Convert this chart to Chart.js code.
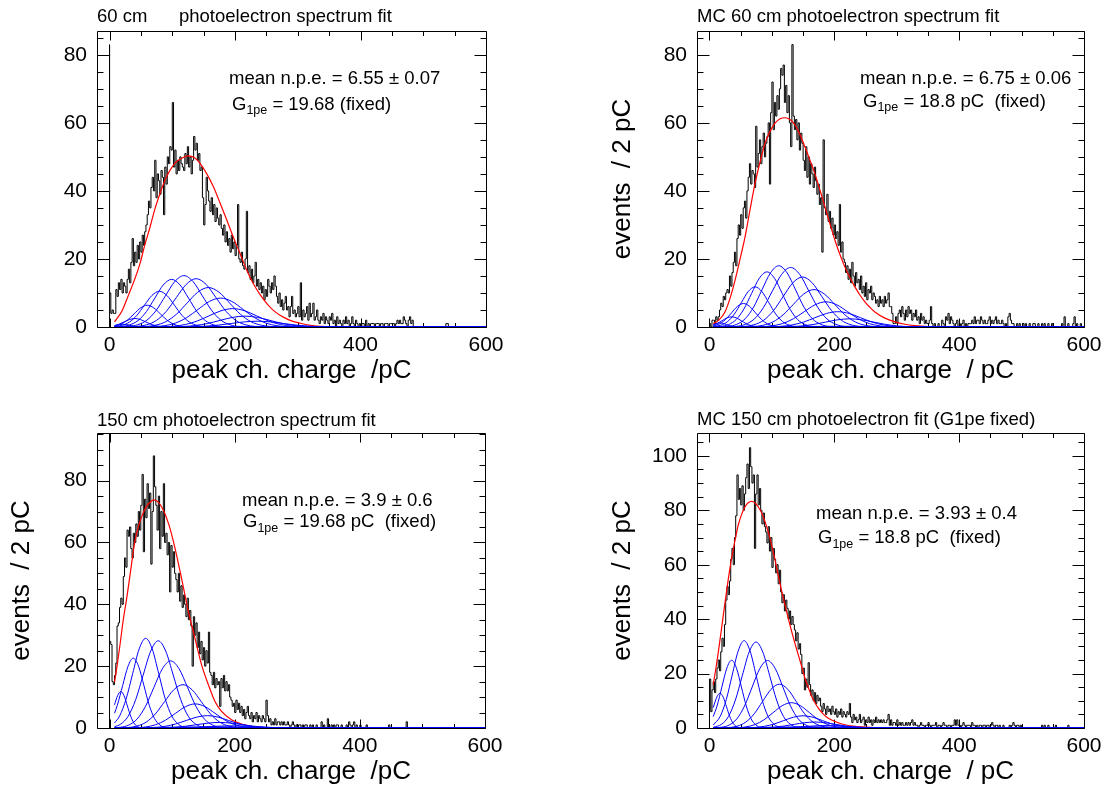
<!DOCTYPE html>
<html>
<head>
<meta charset="utf-8">
<title>photoelectron spectrum fits</title>
<script src="https://cdn.jsdelivr.net/npm/chart.js@4.4.1/dist/chart.umd.min.js"></script>
<style>
  html, body { margin: 0; padding: 0; background: #fff; }
  body { position: relative; width: 1109px; height: 793px; overflow: hidden;
         font-family: "Liberation Sans", Arial, Helvetica, sans-serif; color: #000; }
  .pane { position: absolute; }
  .t { position: absolute; font-size: 18.5px; line-height: 18.5px; white-space: pre; }
  .t .s { font-size: 12.5px; position: relative; top: 4.5px; }
</style>
</head>
<body>
<div class="pane" style="left:0;top:0;width:555px;height:397px"><canvas id="c60"></canvas></div>
<div class="pane" style="left:555px;top:0;width:554px;height:397px"><canvas id="cmc60"></canvas></div>
<div class="pane" style="left:0;top:397px;width:555px;height:396px"><canvas id="c150"></canvas></div>
<div class="pane" style="left:555px;top:397px;width:554px;height:396px"><canvas id="cmc150"></canvas></div>

<div class="t" style="left:97px;top:6.8px">60 cm</div>
<div class="t" style="left:179px;top:6.8px">photoelectron spectrum fit</div>
<div class="t" style="left:229px;top:68.8px">mean n.p.e. = 6.55 ± 0.07</div>
<div class="t" style="left:232px;top:94.8px">G<span class="s">1pe</span> = 19.68 (fixed)</div>

<div class="t" style="left:697px;top:6.8px">MC 60 cm photoelectron spectrum fit</div>
<div class="t" style="left:860px;top:69.3px">mean n.p.e. = 6.75 ± 0.06</div>
<div class="t" style="left:863px;top:91.8px">G<span class="s">1pe</span> = 18.8 pC  (fixed)</div>

<div class="t" style="left:97px;top:410.8px">150 cm photoelectron spectrum fit</div>
<div class="t" style="left:242px;top:490.8px">mean n.p.e. = 3.9 ± 0.6</div>
<div class="t" style="left:243px;top:512.3px">G<span class="s">1pe</span> = 19.68 pC  (fixed)</div>

<div class="t" style="left:697px;top:410.3px">MC 150 cm photoelectron fit (G1pe fixed)</div>
<div class="t" style="left:816px;top:504.3px">mean n.p.e. = 3.93 ± 0.4</div>
<div class="t" style="left:818px;top:528.3px">G<span class="s">1pe</span> = 18.8 pC  (fixed)</div>

<script>
const FONT = "'Liberation Sans', Arial, Helvetica, sans-serif";
Chart.defaults.font.family = FONT;
Chart.defaults.color = '#000';

const xTicks = [0, 200, 400, 600];
const yTicks80 = [0, 20, 40, 60, 80];
const yTicks100 = [0, 20, 40, 60, 80, 100];
const binWidth = 2; // pC per histogram bin, first bin starts at 0 pC

// events per 2 pC bin, 60 cm data
const hist60 = [
  83,10,4,5,4,4,11,9,13,11,
  14,10,13,12,10,14,17,13,19,26,
  18,22,19,24,20,25,22,27,24,28,
  30,33,37,35,41,44,40,49,38,45,
  43,39,46,44,33,47,42,50,48,53,
  52,66,47,52,45,49,46,50,48,47,
  46,51,48,53,47,50,45,49,56,52,
  54,49,51,46,47,38,30,36,44,40,
  37,34,38,33,36,31,35,32,30,33,
  29,27,30,25,28,24,26,22,27,23,
  25,21,24,36,20,19,22,18,17,20,
  34,16,18,14,17,13,15,19,12,14,
  11,13,10,12,8,11,9,14,12,10,
  13,11,15,12,9,7,10,6,8,5,
  7,9,5,6,3,6,9,4,5,3,
  4,6,3,13,2,5,3,4,6,2,
  7,3,4,7,2,3,5,2,1,3,
  2,4,1,3,2,1,3,2,4,1,
  2,0,3,1,2,1,0,2,1,3,
  1,2,0,1,3,1,0,2,1,0,
  1,0,1,1,0,2,0,1,0,1,
  1,1,0,1,1,1,0,1,1,0,
  1,1,1,0,1,1,1,1,0,1,
  2,1,2,1,1,3,2,1,0,2,
  3,1,2,0,0,0,0,0,0,0,
  0,0,0,0,0,0,0,0,0,0,
  0,0,0,0,0,0,0,0,0,1
];

// events per 2 pC bin, MC 60 cm
const histMc60 = [
  0,1,0,2,2,1,3,2,3,5,
  7,6,9,8,10,11,10,15,12,16,
  19,22,18,26,30,27,33,29,35,37,
  32,40,44,48,42,46,45,41,59,47,
  51,55,48,53,57,50,54,56,60,42,
  63,72,58,66,62,68,64,70,76,74,
  77,66,71,63,68,60,53,83,62,58,
  61,55,60,52,57,54,49,46,53,44,
  50,42,48,45,41,47,43,39,42,36,
  38,22,55,35,33,39,31,34,29,32,
  27,30,26,28,24,36,22,25,20,19,
  16,18,14,17,13,19,15,12,16,13,
  14,11,15,10,12,9,13,8,11,10,
  12,8,10,9,7,8,6,9,7,8,
  6,9,7,8,10,6,6,4,1,1,
  3,1,4,5,3,6,4,2,5,3,
  6,4,5,2,4,3,5,2,3,1,
  4,2,3,1,2,1,1,2,6,1,
  0,1,0,0,1,0,0,2,1,0,
  3,2,4,1,3,2,1,0,1,2,
  0,1,0,1,2,0,1,0,1,1,
  1,2,1,3,1,2,2,1,3,2,
  1,2,1,1,2,3,1,2,1,2,
  3,1,2,1,1,2,1,0,1,0,
  3,4,2,1,1,0,0,1,0,1,
  0,0,1,0,1,0,0,1,0,0,
  1,1,0,0,1,0,0,1,0,1,
  0,0,1,0,0,1,0,0,0,0,
  0,0,0,1,0,3,0,0,1,0,
  0,0,1,3,0,1,0,0,1,0
];

// events per 2 pC bin, 150 cm data (first bin runs off scale)
const hist150 = [
  140,28,27,15,14,17,21,33,34,39,
  42,40,49,55,52,64,62,65,58,55,
  63,60,66,62,70,64,72,82,57,74,
  68,79,71,76,53,70,88,78,72,64,
  75,58,70,62,79,60,63,56,60,44,
  59,52,57,50,48,44,50,41,46,39,
  43,40,36,42,35,38,33,20,36,30,
  34,26,31,24,28,22,26,20,25,21,
  31,18,17,14,18,13,16,14,15,7,
  16,13,17,12,15,12,14,10,9,7,
  8,5,9,6,8,5,7,4,6,3,
  5,7,4,3,5,2,4,3,5,2,
  4,3,2,4,3,2,9,4,2,3,
  1,2,1,3,1,2,2,1,2,1,
  2,1,1,2,1,0,1,2,1,0,
  1,0,1,1,0,1,0,1,1,0,
  0,1,0,1,0,0,1,0,0,0,
  2,0,1,0,0,3,0,0,1,0,
  1,0,1,1,0,0,1,0,0,0,
  1,0,2,1,0,1,2,0,1,0,
  0,1,0,0,0,0,1,0,0,0,
  0,0,0,0,0,0,0,0,0,0,
  0,0,0,0,1,0,0,0,0,0,
  0,0,0,0,0,0,0,0,2,0
];

// events per 2 pC bin, MC 150 cm
const histMc150 = [
  2,18,6,14,17,13,18,22,25,21,
  28,33,30,38,47,52,49,54,62,66,
  60,70,78,93,84,88,82,89,80,86,
  92,97,88,103,96,90,93,66,86,93,
  82,88,80,75,79,74,72,68,74,65,
  70,59,66,62,57,60,53,58,50,46,
  49,43,47,44,40,43,38,41,38,36,
  32,35,29,31,27,20,22,14,18,15,
  24,16,12,14,10,13,9,12,10,11,
  8,6,9,7,5,8,6,7,5,8,
  6,5,7,4,6,5,7,4,6,5,
  4,6,5,9,4,2,5,3,4,2,
  3,5,2,3,4,1,3,2,4,2,
  3,1,3,2,4,2,3,2,3,2,
  3,2,2,3,5,1,3,1,2,2,
  1,3,1,2,1,2,1,1,2,1,
  2,1,2,3,1,2,1,1,0,1,
  2,1,1,0,1,1,2,1,0,1,
  1,1,2,0,1,1,0,1,2,1,
  1,0,1,1,0,1,1,3,1,3,
  1,1,0,1,2,1,0,1,1,1,
  0,2,1,1,0,1,0,1,1,0,
  1,1,0,1,1,0,1,2,1,0,
  1,1,0,1,0,0,1,0,0,0,
  0,1,0,1,2,1,0,1,1,0,
  1,0,0,0,0,0,0,0,0,0,
  0,0,0,0,0,0,0,1,0,1,
  0,0,1,0,0,0,0,0,1,0,
  0,0,0,0,0,0,0,0,1,0,
  0,0,0,0,0,0,0,0,0,0
];

// total fit curves [pC, events]
const fit60 = [[8,1.5],[20,4.8],[30,9.3],[40,14],[48.6,18.7],[56,24],[64.6,29.4],[72,34.5],[80.5,39.3],[88,43],[96.5,46.1],[105,48.3],[115,49.6],[125.7,50.3],[135,49.8],[144.3,48.1],[155,45],[165.6,41.2],[176,36.5],[187,31.4],[197,26.5],[208,21.6],[218,17],[229,12.8],[240,9.5],[250.7,6.9],[263,4.6],[277,2.9],[290,1.8],[304,1.1],[320,0.5],[336,0.2],[355,0],[600,0]];
const fitMc60 = [[6,1],[15,2],[25,4.5],[33,8.5],[41,13.8],[49,20],[57,26.5],[65,34.5],[73,42.2],[81,48.5],[89,54],[97,57.5],[105,59.9],[113,61.2],[121,61.5],[129,61],[137,59.4],[145,56.5],[153,52.9],[161,49],[169,45],[177,40.2],[185,35.3],[193,30.3],[201,25.5],[209,21.3],[217,17.6],[225,14.5],[233,11.8],[241,9.4],[249,7.4],[257,5.8],[265,4.4],[281,2.6],[297,1.5],[313,0.8],[329,0.4],[350,0.1],[370,0],[600,0]];
const fit150 = [[8,14.8],[12,20],[16.8,27],[22,35],[27.5,42],[32.8,49.5],[40.7,60.5],[46.7,65.5],[52.7,69],[58.7,71.5],[64.7,73],[70.7,73.8],[77,73.2],[84.7,71],[95,65.7],[104.6,58.2],[115,48.5],[126,37.7],[136.6,29],[147,20.5],[158,14],[168.5,8.6],[179,5.4],[195,2.7],[211,1.3],[232,0.4],[260,0.05],[280,0],[600,0]];
const fitMc150 = [[6,15.9],[10,21.5],[14.2,28],[19,36],[24.8,46],[30,54.5],[35.5,62.5],[41,69],[46,74.5],[51.5,78.5],[57,81.3],[62,82.8],[67.6,83.3],[73,82.7],[78,81.3],[84,78.8],[89,75.8],[94.5,71.8],[99.6,67.2],[105,61.8],[110,56.2],[115.5,50.5],[121,45.2],[126.5,40],[131.7,35.4],[137,31],[142.4,26.8],[148,22.4],[153,18.3],[158.5,14.8],[163.7,11.6],[169,9.3],[174.4,7.3],[182,5.2],[190.4,3.6],[203,2.2],[217,1.2],[230,0.7],[244,0.4],[270,0.1],[300,0],[600,0]];

// n-photoelectron components [pC, events]
const comp60 = [
  [[8,.4],[10,.49],[15.5,.71],[21,.8],[26.5,.71],[32,.49],[37.5,.26],[43,.11],[48.5,.04],[54,.01],[600,0]],
  [[8,.4],[15,.81],[23.5,1.52],[32,2.2],[40.5,2.5],[49,2.2],[57.5,1.52],[66,.81],[74.5,.34],[83,.11],[91.5,.03],[600,0]],
  [[8,.28],[18.4,.86],[28.8,2.08],[39.2,3.88],[49.6,5.64],[60,6.4],[70.4,5.64],[80.8,3.88],[91.2,2.08],[101.6,.86],[112,.28],[122.4,.07],[600,0]],
  [[8,.12],[19.5,.46],[31.5,1.42],[43.5,3.41],[55.5,6.37],[67.5,9.26],[79.5,10.5],[91.5,9.26],[103.5,6.37],[115.5,3.41],[127.5,1.42],[139.5,.46],[151.5,.12],[600,0]],
  [[8,.04],[18.6,.15],[32,.62],[45.4,1.89],[58.8,4.55],[72.2,8.5],[85.6,12.35],[99,14],[112.4,12.35],[125.8,8.5],[139.2,4.55],[152.6,1.89],[166,.62],[179.4,.15],[600,0]],
  [[8,0],[30.3,.17],[45,.66],[59.7,2.04],[74.4,4.91],[89.1,9.17],[103.8,13.32],[118.5,15.1],[133.2,13.32],[147.9,9.17],[162.6,4.91],[177.3,2.04],[192,.66],[206.7,.17],[600,0]],
  [[8,0],[42.9,.16],[58.8,.62],[74.6,1.92],[90.5,4.62],[106.3,8.62],[122.2,12.52],[138,14.2],[153.9,12.52],[169.7,8.62],[185.6,4.62],[201.4,1.92],[217.3,.62],[233.1,.16],[600,0]],
  [[8,0],[55.8,.13],[72.8,.51],[89.7,1.57],[106.7,3.77],[123.6,7.04],[140.6,10.23],[157.5,11.6],[174.5,10.23],[191.4,7.04],[208.4,3.77],[225.3,1.57],[242.3,.51],[259.2,.13],[600,0]],
  [[8,0],[69,.09],[87,.37],[105,1.15],[123,2.76],[141,5.16],[159,7.5],[177,8.5],[195,7.5],[213,5.16],[231,2.76],[249,1.15],[267,.37],[285,.09],[600,0]],
  [[8,0],[82.8,.06],[101.8,.24],[120.7,.73],[139.7,1.76],[158.6,3.28],[177.6,4.76],[196.5,5.4],[215.5,4.76],[234.4,3.28],[253.4,1.76],[272.3,.73],[291.3,.24],[310.2,.06],[600,0]],
  [[8,0],[96.6,.04],[116.5,.14],[136.4,.43],[156.3,1.04],[176.2,1.94],[196.1,2.82],[216,3.2],[235.9,2.82],[255.8,1.94],[275.7,1.04],[295.6,.43],[315.5,.14],[335.4,.04],[600,0]],
  [[8,0],[110.7,.02],[131.5,.07],[152.3,.23],[173.1,.55],[193.9,1.03],[214.7,1.5],[235.5,1.7],[256.3,1.5],[277.1,1.03],[297.9,.55],[318.7,.23],[339.5,.07],[360.3,.02],[600,0]]
];
const compMc60 = [
  [[6,.66],[12,1.06],[17,1.2],[22,1.06],[27,.73],[32,.39],[37,.16],[42,.05],[47,.01],[600,0]],
  [[6,.5],[12.1,.98],[19.9,1.82],[27.7,2.65],[35.5,3],[43.3,2.65],[51.1,1.82],[58.9,.98],[66.7,.41],[74.5,.13],[82.3,.03],[600,0]],
  [[6,.28],[16.3,.93],[25.9,2.24],[35.4,4.19],[45,6.09],[54.5,6.9],[64,6.09],[73.6,4.19],[83.2,2.24],[92.7,.93],[102.3,.3],[111.8,.08],[600,0]],
  [[6,.11],[18,.52],[29,1.59],[40,3.84],[51,7.16],[62,10.41],[73,11.8],[84,10.41],[95,7.16],[106,3.84],[117,1.59],[128,.52],[139,.13],[600,0]],
  [[6,.03],[18.2,.18],[30.5,.71],[42.8,2.19],[55.1,5.27],[67.4,9.83],[79.7,14.29],[92,16.2],[104.3,14.29],[116.6,9.83],[128.9,5.27],[141.2,2.19],[153.5,.71],[165.8,.18],[600,0]],
  [[6,0],[30.3,.2],[43.8,.79],[57.2,2.43],[70.7,5.85],[84.1,10.93],[97.6,15.88],[111,18],[124.5,15.88],[137.9,10.93],[151.4,5.85],[164.8,2.43],[178.3,.79],[191.7,.2],[600,0]],
  [[6,0],[42.7,.19],[57.3,.77],[71.8,2.36],[86.4,5.69],[100.9,10.62],[115.5,15.44],[130,17.5],[144.6,15.44],[159.1,10.62],[173.7,5.69],[188.2,2.36],[202.8,.77],[217.3,.19],[600,0]],
  [[6,0],[55.7,.16],[71.3,.65],[86.8,1.98],[102.4,4.78],[117.9,8.92],[133.5,12.97],[149,14.7],[164.6,12.97],[180.1,8.92],[195.7,4.78],[211.2,1.98],[226.8,.65],[242.3,.16],[600,0]],
  [[6,0],[68.5,.12],[85,.48],[101.5,1.49],[118,3.58],[134.5,6.68],[151,9.7],[167.5,11],[184,9.7],[200.5,6.68],[217,3.58],[233.5,1.49],[250,.48],[266.5,.12],[600,0]],
  [[6,0],[82.1,.08],[99.5,.33],[116.9,1],[134.3,2.41],[151.7,4.49],[169.1,6.53],[186.5,7.4],[203.9,6.53],[221.3,4.49],[238.7,2.41],[256.1,1],[273.5,.33],[290.9,.08],[600,0]],
  [[6,0],[96,.05],[114.3,.2],[132.5,.61],[150.8,1.46],[169,2.73],[187.3,3.97],[205.5,4.5],[223.8,3.97],[242,2.73],[260.3,1.46],[278.5,.61],[296.8,.2],[315,.05],[600,0]],
  [[6,0],[110.2,.03],[129.3,.11],[148.3,.32],[167.4,.78],[186.4,1.46],[205.5,2.12],[224.5,2.4],[243.6,2.12],[262.6,1.46],[281.7,.78],[300.7,.32],[319.8,.11],[338.8,.03],[600,0]]
];
const comp150 = [
  [[8,7.5],[12.8,10.41],[18,11.8],[23.3,10.41],[28.5,7.16],[33.8,3.84],[39,1.59],[44.3,.52],[49.5,.13],[600,0]],
  [[8,4.8],[12.5,7.35],[21,13.72],[29.5,19.93],[38,22.6],[46.5,19.93],[55,13.72],[63.5,7.35],[72,3.05],[80.5,.99],[89,.25],[600,0]],
  [[8,1.65],[16.2,3.92],[26.6,9.43],[37,17.6],[47.4,25.58],[57.8,29],[68.2,25.58],[78.6,17.6],[89,9.43],[99.4,3.92],[109.8,1.28],[120.2,.32],[600,0]],
  [[8,.41],[17.8,1.24],[29.8,3.81],[41.8,9.17],[53.8,17.12],[65.8,24.87],[77.8,28.2],[89.8,24.87],[101.8,17.12],[113.8,9.17],[125.8,3.81],[137.8,1.24],[149.8,.31],[600,0]],
  [[8,.08],[17.4,.24],[30.8,.95],[44.2,2.93],[57.6,7.05],[71,13.17],[84.4,19.14],[97.8,21.7],[111.2,19.14],[124.6,13.17],[138,7.05],[151.4,2.93],[164.8,.95],[178.2,.24],[600,0]],
  [[8,0],[29.1,.15],[43.8,.62],[58.5,1.89],[73.2,4.55],[87.9,8.5],[102.6,12.35],[117.3,14],[132,12.35],[146.7,8.5],[161.4,4.55],[176.1,1.89],[190.8,.62],[205.5,.15],[600,0]],
  [[8,0],[41.9,.09],[57.8,.34],[73.6,1.05],[89.5,2.54],[105.3,4.73],[121.2,6.88],[137,7.8],[152.9,6.88],[168.7,4.73],[184.6,2.54],[200.4,1.05],[216.3,.34],[232.1,.09],[600,0]],
  [[8,0],[54.8,.04],[71.8,.18],[88.7,.54],[105.7,1.3],[122.6,2.43],[139.6,3.53],[156.5,4],[173.5,3.53],[190.4,2.43],[207.4,1.3],[224.3,.54],[241.3,.18],[258.2,.04],[600,0]],
  [[8,0],[68,.02],[86,.08],[104,.24],[122,.59],[140,1.09],[158,1.59],[176,1.8],[194,1.59],[212,1.09],[230,.59],[248,.24],[266,.08],[284,.02],[600,0]],
  [[8,0],[81.8,.01],[100.8,.03],[119.7,.09],[138.7,.23],[157.6,.42],[176.6,.62],[195.5,.7],[214.5,.62],[233.4,.42],[252.4,.23],[271.3,.09],[290.3,.03],[309.2,.01],[600,0]]
];
const compMc150 = [
  [[6,7.5],[11.6,11.29],[16.8,12.8],[22.1,11.29],[27.3,7.77],[32.6,4.16],[37.8,1.73],[43.1,.56],[48.3,.14],[600,0]],
  [[6,4.2],[12.1,8.09],[19.9,15.11],[27.7,21.96],[35.5,24.9],[43.3,21.96],[51.1,15.11],[58.9,8.09],[66.7,3.36],[74.5,1.1],[82.3,.27],[600,0]],
  [[6,1.1],[17.3,4.33],[26.9,10.43],[36.4,19.48],[46,28.31],[55.5,32.1],[65,28.31],[74.6,19.48],[84.2,10.43],[93.7,4.33],[103.3,1.41],[112.8,.35],[600,0]],
  [[6,.25],[19.5,1.39],[30.5,4.27],[41.5,10.27],[52.5,19.18],[63.5,27.87],[74.5,31.6],[85.5,27.87],[96.5,19.18],[107.5,10.27],[118.5,4.27],[129.5,1.39],[140.5,.35],[600,0]],
  [[6,.05],[19.2,.27],[31.5,1.09],[43.8,3.35],[56.1,8.06],[68.4,15.05],[80.7,21.87],[93,24.8],[105.3,21.87],[117.6,15.05],[129.9,8.06],[142.2,3.35],[154.5,1.09],[166.8,.27],[600,0]],
  [[6,0],[31.3,.18],[44.8,.71],[58.2,2.17],[71.7,5.23],[85.1,9.77],[98.6,14.2],[112,16.1],[125.5,14.2],[138.9,9.77],[152.4,5.23],[165.8,2.17],[179.3,.71],[192.7,.18],[600,0]],
  [[6,0],[43.7,.1],[58.3,.41],[72.8,1.26],[87.4,3.02],[101.9,5.65],[116.5,8.2],[131,9.3],[145.6,8.2],[160.1,5.65],[174.7,3.02],[189.2,1.26],[203.8,.41],[218.3,.1],[600,0]],
  [[6,0],[56.7,.05],[72.3,.2],[87.8,.61],[103.4,1.46],[118.9,2.73],[134.5,3.97],[150,4.5],[165.6,3.97],[181.1,2.73],[196.7,1.46],[212.2,.61],[227.8,.2],[243.3,.05],[600,0]],
  [[6,0],[70,.02],[86.5,.1],[103,.3],[119.5,.72],[136,1.34],[152.5,1.94],[169,2.2],[185.5,1.94],[202,1.34],[218.5,.72],[235,.3],[251.5,.1],[268,.02],[600,0]],
  [[6,0],[83.6,.01],[101,.04],[118.4,.12],[135.8,.29],[153.2,.55],[170.6,.79],[188,.9],[205.4,.79],[222.8,.55],[240.2,.29],[257.6,.12],[275,.04],[292.4,.01],[600,0]]
];

function toXY(pairs) {
  return pairs.map(p => ({x: p[0], y: p[1]}));
}

// step outline of a histogram, bin i covers [i*binWidth, (i+1)*binWidth)
function histXY(counts) {
  const pts = [{x: 0, y: 0}];
  counts.forEach((c, i) => pts.push({x: i * binWidth, y: c}));
  const end = counts.length * binWidth;
  pts.push({x: end, y: counts[counts.length - 1]});
  pts.push({x: end, y: 0});
  return pts;
}

// ROOT style frame with ticks on all four sides, pointing inwards
const frameTicks = {
  id: 'frameTicks',
  beforeDatasetsDraw(chart) {
    const {ctx, chartArea: a, scales: {x, y}} = chart;
    const L = Math.round(a.left) + .5, R = Math.round(a.right) + .5;
    const T = Math.round(a.top) + .5, B = Math.round(a.bottom) + .5;
    ctx.save();
    ctx.strokeStyle = '#000';
    ctx.lineWidth = 1;
    ctx.beginPath();
    ctx.rect(L, T, R - L, B - T);
    for (let v = 0; v <= y.max; v += 5) {
      const p = Math.round(y.getPixelForValue(v)) + .5;
      const len = v % 20 === 0 ? 12 : 6;
      ctx.moveTo(L, p); ctx.lineTo(L + len, p);
      ctx.moveTo(R, p); ctx.lineTo(R - len, p);
    }
    for (let v = 0; v <= 600; v += 50) {
      const p = Math.round(x.getPixelForValue(v)) + .5;
      const len = v % 200 === 0 ? 9 : 4.5;
      ctx.moveTo(p, T); ctx.lineTo(p, T + len);
      ctx.moveTo(p, B); ctx.lineTo(p, B - len);
    }
    ctx.stroke();
    ctx.restore();
  }
};

function panel(id, cfg) {
  const canvas = document.getElementById(id);
  const W = canvas.parentNode.clientWidth;
  const H = canvas.parentNode.clientHeight;
  const datasets = [];
  cfg.comps.forEach(c => datasets.push({
    data: toXY(c), borderColor: '#0000ff', borderWidth: 1, cubicInterpolationMode: 'monotone'
  }));
  datasets.push({data: toXY(cfg.fit), borderColor: '#ff0000', borderWidth: 1.2, cubicInterpolationMode: 'monotone'});
  datasets.push({data: histXY(cfg.hist), borderColor: '#000000', borderWidth: 1, stepped: 'after'});

  return new Chart(canvas, {
    type: 'line',
    data: {datasets},
    options: {
      responsive: true,
      maintainAspectRatio: false,
      animation: false,
      events: [],
      elements: {point: {radius: 0}, line: {fill: false}},
      layout: {padding: {top: cfg.area.top, right: W - cfg.area.right, left: 0, bottom: 0}},
      plugins: {legend: {display: false}, tooltip: {enabled: false}},
      scales: {
        x: {
          type: 'linear', min: -20, max: 600,
          afterBuildTicks: s => { s.ticks = xTicks.map(v => ({value: v})); },
          afterFit: s => { s.height = H - cfg.area.bottom; },
          grid: {display: false, drawTicks: false},
          border: {display: false},
          ticks: {padding: 6, autoSkip: false, maxRotation: 0, font: {size: 21}},
          title: {display: true, text: cfg.xTitle, font: {size: 26}, padding: {top: 0, bottom: cfg.xTitlePad}}
        },
        y: {
          type: 'linear', min: 0, max: cfg.yMax,
          afterBuildTicks: s => { s.ticks = cfg.yTicks.map(v => ({value: v})); },
          afterFit: s => { s.width = cfg.area.left; },
          grid: {display: false, drawTicks: false},
          border: {display: false},
          ticks: {padding: 10, font: {size: 21}},
          title: {display: !!cfg.yTitle, text: cfg.yTitle || '', font: {size: 26}, padding: {top: cfg.yTitlePad || 0, bottom: 0}}
        }
      }
    },
    plugins: [frameTicks]
  });
}

panel('c60', {
  hist: hist60, fit: fit60, comps: comp60,
  area: {left: 97, top: 31, right: 486, bottom: 327},
  yMax: 87, yTicks: yTicks80,
  xTitle: 'peak ch. charge  /pC', xTitlePad: 10.4
});
panel('cmc60', {
  hist: histMc60, fit: fitMc60, comps: compMc60,
  area: {left: 142, top: 31, right: 529, bottom: 327},
  yMax: 87, yTicks: yTicks80,
  xTitle: 'peak ch. charge  / pC', xTitlePad: 10.4,
  yTitle: 'events  / 2 pC', yTitlePad: 51.9
});
panel('c150', {
  hist: hist150, fit: fit150, comps: comp150,
  area: {left: 97, top: 36, right: 485, bottom: 331},
  yMax: 95.4, yTicks: yTicks80,
  xTitle: 'peak ch. charge  /pC', xTitlePad: 5.4,
  yTitle: 'events  / 2 pC', yTitlePad: 6.4
});
panel('cmc150', {
  hist: histMc150, fit: fitMc150, comps: compMc150,
  area: {left: 142, top: 36, right: 529, bottom: 331},
  yMax: 108.4, yTicks: yTicks100,
  xTitle: 'peak ch. charge  / pC', xTitlePad: 5.4,
  yTitle: 'events  / 2 pC', yTitlePad: 51.9
});
</script>
</body>
</html>
